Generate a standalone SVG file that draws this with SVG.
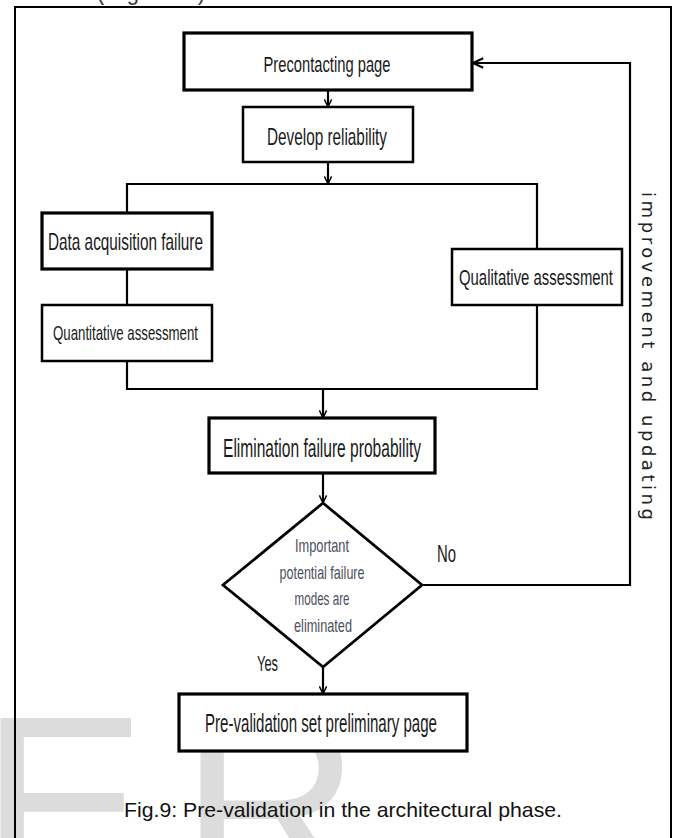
<svg xmlns="http://www.w3.org/2000/svg" width="674" height="838" viewBox="0 0 674 838">
  <style>
    .box { fill: #ffffff; stroke: #000000; stroke-width: 2.5; }
    .thick { stroke-width: 3.2; }
    .lbl { font-family: "Liberation Sans Narrow", "Liberation Sans", Arial, sans-serif; fill: #1a1a1a; text-anchor: middle; }
    .dlbl { font-family: "Liberation Sans Narrow", "Liberation Sans", Arial, sans-serif; fill: #4e4e5e; text-anchor: middle; font-size: 19px; }
    .conn { fill: none; stroke: #000000; stroke-width: 2.2; }
    .wm { font-family: "Liberation Sans", Arial, sans-serif; font-size: 250px; fill: #dcdcdc; }
    .cap { font-family: "Liberation Sans", Arial, sans-serif; font-size: 21px; fill: #111111; }
  </style>
  <defs>
    <marker id="arr" viewBox="0 0 10 10" refX="9.5" refY="5" markerWidth="9" markerHeight="9" markerUnits="userSpaceOnUse" orient="auto">
      <path d="M1,1 L9.5,5 L1,9" fill="none" stroke="#000" stroke-width="1.6"/>
    </marker>
    <marker id="arrL" viewBox="0 0 10 10" refX="9.5" refY="5" markerWidth="12" markerHeight="12" markerUnits="userSpaceOnUse" orient="auto">
      <path d="M1,1 L9.5,5 L1,9" fill="none" stroke="#000" stroke-width="1.8"/>
    </marker>
  </defs>

  <rect width="674" height="838" fill="#ffffff"/>

  <!-- watermark -->
  <g id="watermark">
    <text class="wm" x="-20" y="891">E</text>
    <text class="wm" x="180" y="891">R</text>
  </g>

  <!-- cropped text above frame -->
  <text x="97" y="0" font-family="Liberation Sans, Arial, sans-serif" font-size="22" fill="#333" textLength="108" lengthAdjust="spacing">(Figure 9)</text>

  <!-- frame -->
  <path d="M15,845 L15,7 L671,7 L671,845" fill="none" stroke="#000" stroke-width="2"/>

  <!-- connectors -->
  <g id="connectors">
    <line class="conn" x1="328" y1="90" x2="328" y2="107" marker-end="url(#arr)"/>
    <line class="conn" x1="328" y1="162" x2="328" y2="184" marker-end="url(#arr)"/>
    <polyline class="conn" points="127,213 127,184 537,184 537,249"/>
    <line class="conn" x1="127" y1="269" x2="127" y2="305"/>
    <polyline class="conn" points="127,361 127,389 537,389 537,305"/>
    <line class="conn" x1="323" y1="389" x2="323" y2="418" marker-end="url(#arr)"/>
    <line class="conn" x1="323" y1="473" x2="323" y2="503" marker-end="url(#arr)"/>
    <line class="conn" x1="323" y1="667" x2="323" y2="694" marker-end="url(#arr)"/>
    <polyline class="conn" points="422,585 630,585 630,63 473,63" stroke-width="2.6" marker-end="url(#arrL)"/>
  </g>

  <g id="precontacting">
    <rect class="box thick" x="184" y="33" width="288" height="57"/>
    <text class="lbl" x="327" y="72" font-size="22" textLength="127" lengthAdjust="spacingAndGlyphs">Precontacting page</text>
  </g>

  <g id="develop">
    <rect class="box" x="243" y="107" width="170" height="55"/>
    <text class="lbl" x="327" y="145" font-size="24" textLength="120" lengthAdjust="spacingAndGlyphs">Develop reliability</text>
  </g>

  <g id="data-acquisition">
    <rect class="box thick" x="42" y="213" width="170" height="56"/>
    <text class="lbl" x="125.5" y="250" font-size="24" textLength="155" lengthAdjust="spacingAndGlyphs">Data acquisition failure</text>
  </g>

  <g id="quantitative">
    <rect class="box" x="42" y="305" width="170" height="56"/>
    <text class="lbl" x="125.5" y="340" font-size="21" textLength="145" lengthAdjust="spacingAndGlyphs">Quantitative assessment</text>
  </g>

  <g id="qualitative">
    <rect class="box" x="452" y="249" width="170" height="56"/>
    <text class="lbl" x="536" y="285" font-size="22" textLength="154" lengthAdjust="spacingAndGlyphs">Qualitative assessment</text>
  </g>

  <g id="elimination">
    <rect class="box thick" x="209" y="418" width="226" height="55"/>
    <text class="lbl" x="322" y="457" font-size="26" textLength="198" lengthAdjust="spacingAndGlyphs">Elimination failure probability</text>
  </g>

  <g id="decision">
    <polygon points="323,503 422,585 323,667 223,585" fill="#ffffff" stroke="#000" stroke-width="2.8" stroke-linejoin="miter"/>
    <text class="dlbl" x="322" y="552" textLength="54" lengthAdjust="spacingAndGlyphs">Important</text>
    <text class="dlbl" x="322" y="579" textLength="85" lengthAdjust="spacingAndGlyphs">potential failure</text>
    <text class="dlbl" x="322" y="605" textLength="55" lengthAdjust="spacingAndGlyphs">modes are</text>
    <text class="dlbl" x="323" y="632" textLength="58" lengthAdjust="spacingAndGlyphs">eliminated</text>
  </g>

  <g id="labels">
    <text x="437" y="562" font-family="Liberation Sans Narrow, Liberation Sans, Arial, sans-serif" font-size="23" fill="#1a1a1a" textLength="19" lengthAdjust="spacingAndGlyphs">No</text>
    <text x="257" y="671" font-family="Liberation Sans Narrow, Liberation Sans, Arial, sans-serif" font-size="22" fill="#1a1a1a" textLength="21" lengthAdjust="spacingAndGlyphs">Yes</text>
    <text transform="translate(642,192) rotate(90)" x="0" y="0" font-family="DejaVu Sans, Verdana, sans-serif" font-size="18" fill="#222" textLength="328" lengthAdjust="spacing">improvement and updating</text>
  </g>

  <g id="prevalidation">
    <rect class="box thick" x="179" y="694" width="288" height="57"/>
    <text class="lbl" x="321" y="732" font-size="25" textLength="232" lengthAdjust="spacingAndGlyphs">Pre-validation set preliminary page</text>
  </g>

  <text class="cap" x="124" y="817" textLength="438" lengthAdjust="spacingAndGlyphs">Fig.9: Pre-validation in the architectural phase.</text>
</svg>
